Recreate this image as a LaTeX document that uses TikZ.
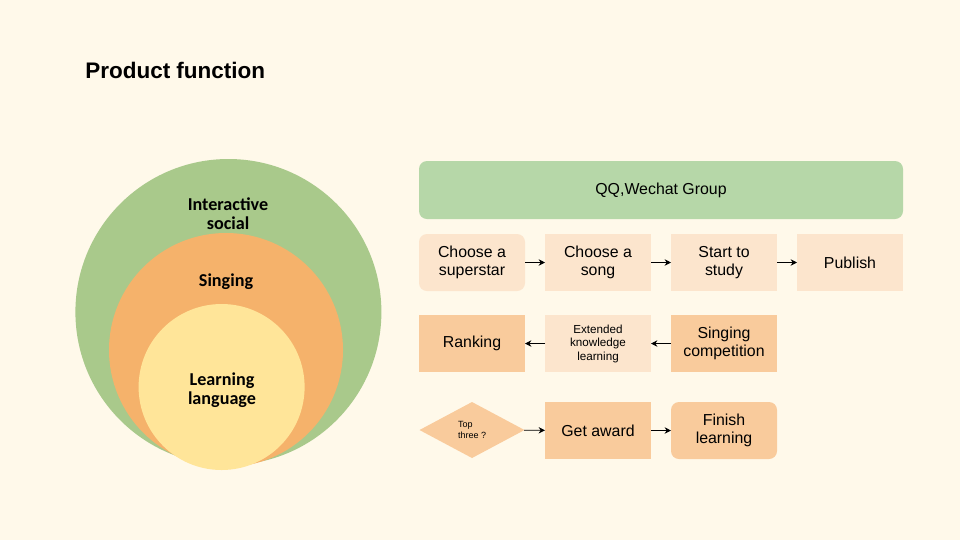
\documentclass[tikz,border=0pt]{standalone}
\usepackage{fontspec}
\setmainfont{Liberation Sans}
\newfontfamily\circfont{Carlito}
\usetikzlibrary{arrows.meta,positioning,shapes.geometric}
\definecolor{paper}{HTML}{FFF9EA}
\definecolor{socialgreen}{HTML}{A9C98B}
\definecolor{singorange}{HTML}{F5B26B}
\definecolor{langyellow}{HTML}{FFE599}
\definecolor{bargreen}{HTML}{B6D7A8}
\definecolor{lightpeach}{HTML}{FCE5CD}
\definecolor{darkpeach}{HTML}{F9CB9C}
\tikzset{
  ring/.style={circle, draw=none, inner sep=0pt},
  ringlabel/.style={font=\circfont\bfseries\fontsize{12.9}{13.5}\selectfont, align=center},
  stepbox/.style={draw=none, fill=lightpeach, align=center, inner sep=0pt, outer sep=0pt,
    minimum width=2.65cm, minimum height=1.425cm, font=\fontsize{11.3}{13}\selectfont},
  darkbox/.style={stepbox, fill=darkpeach},
  roundbox/.style={stepbox, rounded corners=0.2cm},
  decision/.style={diamond, fill=darkpeach, inner sep=0pt, outer sep=0pt, align=left,
    minimum width=2.625cm, minimum height=1.4cm, font=\fontsize{6.4}{8}\selectfont},
  arr/.style={-{Stealth[length=1.6mm, width=1.6mm]}, line width=0.6pt, draw=black}
}

\begin{document}
\begin{tikzpicture}[node distance=0.5cm]
    \fill[paper] (0,0) rectangle (24,-13.5);
    \node[anchor=west, inner sep=0pt, font=\bfseries\fontsize{16}{18}\selectfont] (title) at (2.125,-1.75) {Product function};
    % nested circles
    \node[ring, fill=socialgreen, minimum size=7.65cm] (social) at (5.71,-7.8) {};
    \node[ring, fill=singorange, minimum size=5.85cm] (sing) at (5.65,-8.75) {};
    \node[ring, fill=langyellow, minimum size=4.15cm] (lang) at (5.54,-9.675) {};
    \node[ringlabel] (sociallbl) at (5.7,-5.35) {Interactive\\social};
    \node[ringlabel] (singlbl) at (5.65,-7.05) {Singing};
    \node[ringlabel] (langlbl) at (5.55,-9.75) {Learning\\language};
    % flow
    \node[stepbox, fill=bargreen, rounded corners=0.2cm, minimum width=12.1cm, minimum height=1.45cm] (group) at (16.525,-4.75) {QQ,Wechat Group};
    \node[roundbox, below right=0.375cm and 0cm of group.south west] (star) {Choose a\\superstar};
    \node[stepbox, right=of star] (song) {Choose a\\song};
    \node[stepbox, right=of song] (study) {Start to\\study};
    \node[stepbox, right=of study] (publish) {Publish};
    \node[darkbox, below=0.6cm of star] (rank) {Ranking};
    \node[stepbox, below=0.6cm of song, font=\fontsize{8.3}{9.6}\selectfont] (extend) {Extended\\knowledge\\learning};
    \node[darkbox, below=0.6cm of study] (compete) {Singing\\competition};
    \node[decision, below=0.75cm of rank] (top) {Top\\three ?};
    \node[darkbox, below=0.75cm of extend] (award) {Get award};
    \node[darkbox, rounded corners=0.2cm, below=0.75cm of compete] (finish) {Finish\\learning};
    \draw[arr] (star) -- (song);
    \draw[arr] (song) -- (study);
    \draw[arr] (study) -- (publish);
    \draw[arr] (compete) -- (extend);
    \draw[arr] (extend) -- (rank);
    \draw[arr] (top) -- (award);
    \draw[arr] (award) -- (finish);
\end{tikzpicture}
\end{document}
